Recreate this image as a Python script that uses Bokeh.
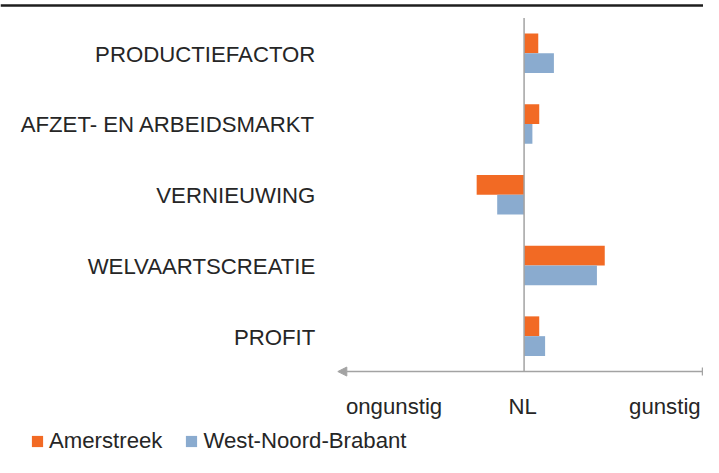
from bokeh.plotting import figure
from bokeh.models import (Legend, LegendItem, Arrow, NormalHead, TeeHead,
                          Range1d, ColumnDataSource)
from bokeh.core.properties import value
from bokeh.embed import file_html
from bokeh.resources import INLINE

# ---- data ----
categories = ["PRODUCTIEFACTOR", "AFZET- EN ARBEIDSMARKT", "VERNIEUWING",
              "WELVAARTSCREATIE", "PROFIT"]
amerstreek = [0.29, 0.31, -0.97, 1.65, 0.31]
west_noord_brabant = [0.61, 0.17, -0.55, 1.49, 0.43]
series_names = ["Amerstreek", "West-Noord-Brabant"]
axis_labels = ["ongunstig", "NL", "gunstig"]
axis_label_pos = [-2.66, -0.03, 2.88]

# ---- layout constants ----
W, H = 703, 457
X_START, X_END = -10.71, 3.67
Y_START, Y_END = -1.7154, 4.7458
AXIS_MIN, AXIS_MAX = -3.81, 3.65
LABEL_X = -4.27
ORANGE = "#F26A24"
BLUE = "#8AABCF"
GRAY = "#A3A3A3"
TEXT = "#262626"
FONT = "Liberation Sans"
FS = "22.2px"

n = len(categories)
ys = [n - 1 - i for i in range(n)]

src = ColumnDataSource(dict(
    y=ys, cat=categories, a=amerstreek, w=west_noord_brabant,
    ya=[y + 0.14 for y in ys], yw=[y - 0.14 for y in ys],
    lx=[LABEL_X] * n))

p = figure(width=W, height=H, x_range=Range1d(X_START, X_END),
           y_range=Range1d(Y_START, Y_END), output_backend="svg",
           toolbar_location=None, min_border=0, x_axis_location=None,
           y_axis_location=None, outline_line_color=None,
           background_fill_color="white", border_fill_color="white")
p.xgrid.visible = False
p.ygrid.visible = False

# top rule
p.segment(x0=[X_START], x1=[X_END], y0=[Y_END - 0.07], y1=[Y_END - 0.07],
          line_color="#1E1E1E", line_width=2.5)

r_a = p.hbar(y="ya", left=0, right="a", height=0.28, source=src,
             fill_color=ORANGE, line_color=None)
r_w = p.hbar(y="yw", left=0, right="w", height=0.28, source=src,
             fill_color=BLUE, line_color=None)

# zero (NL) line
p.segment(x0=[0], x1=[0], y0=[-0.5], y1=[n - 0.5], line_color=GRAY,
          line_width=1.5)

# horizontal axis with arrow
p.add_layout(Arrow(start=TeeHead(size=8, line_color=GRAY, line_width=1.5),
                   end=NormalHead(size=9, fill_color=GRAY, line_color=GRAY),
                   x_start=AXIS_MAX, y_start=-0.5, x_end=AXIS_MIN, y_end=-0.5,
                   line_color=GRAY, line_width=1.5))

# category labels
p.text(x="lx", y="y", text="cat", source=src, text_align="right",
       text_baseline="middle", text_font=value(FONT), text_font_size=FS,
       text_color=TEXT, y_offset=1)

# axis labels
asrc = ColumnDataSource(dict(x=axis_label_pos, y=[-1] * 3, t=axis_labels))
p.text(x="x", y="y", text="t", text_align="center", source=asrc,
       text_baseline="alphabetic", text_font=value(FONT), text_font_size=FS,
       text_color=TEXT)

legend = Legend(items=[LegendItem(label=series_names[0], renderers=[r_a]),
                       LegendItem(label=series_names[1], renderers=[r_w])],
                orientation="horizontal", location=(30, 3), glyph_width=14,
                glyph_height=14, label_standoff=5, spacing=22, padding=0,
                margin=0, border_line_color=None, background_fill_alpha=0,
                label_text_font=FONT, label_text_font_size=FS,
                label_text_color=TEXT)
p.add_layout(legend)

open("out.html", "w").write(file_html(p, INLINE))
